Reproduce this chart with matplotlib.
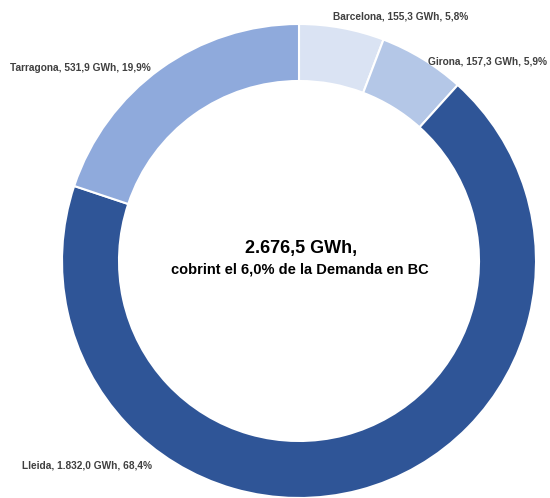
import matplotlib
matplotlib.use("Agg")
import matplotlib.pyplot as plt

provinces = ['Barcelona', 'Girona', 'Lleida', 'Tarragona']
gwh = [155.3, 157.3, 1832.0, 531.9]
shares = ['5,8%', '5,9%', '68,4%', '19,9%']
gwh_labels = ['155,3', '157,3', '1.832,0', '531,9']
colors = ['#DAE3F3', '#B4C7E7', '#2F5597', '#8FAADC']
total_label = '2.676,5 GWh,'
subtitle = 'cobrint el 6,0% de la Demanda en BC'

plt.rcParams['font.family'] = ['Liberation Sans', 'DejaVu Sans']

W, H = 550, 498
fig = plt.figure(figsize=(5.5, 4.98), dpi=100)
ax = fig.add_axes([0, 0, 1, 1])

R = 237
ax.pie(gwh, colors=colors, startangle=90, counterclock=False,
       center=(299, H - 261), radius=R,
       wedgeprops=dict(width=R - 180, edgecolor='white', linewidth=1.5))
ax.set_xlim(0, W)
ax.set_ylim(0, H)
ax.set_aspect('equal')
ax.axis('off')

# label positions in pixels from top-left
label_pos = [(333, 16), (428, 61), (22, 466), (10, 68)]
for p, g, s, (x, y) in zip(provinces, gwh_labels, shares, label_pos):
    ax.text(x, H - y, f'{p}, {g} GWh, {s}', fontsize=7.3, color='#404040',
            ha='left', va='center', fontweight='bold')

ax.text(301, H - 248, total_label, fontsize=13, fontweight='bold', ha='center', va='center')
ax.text(300, H - 270, subtitle, fontsize=10.5, fontweight='bold', ha='center', va='center')

fig.savefig('out.png', dpi=100)
